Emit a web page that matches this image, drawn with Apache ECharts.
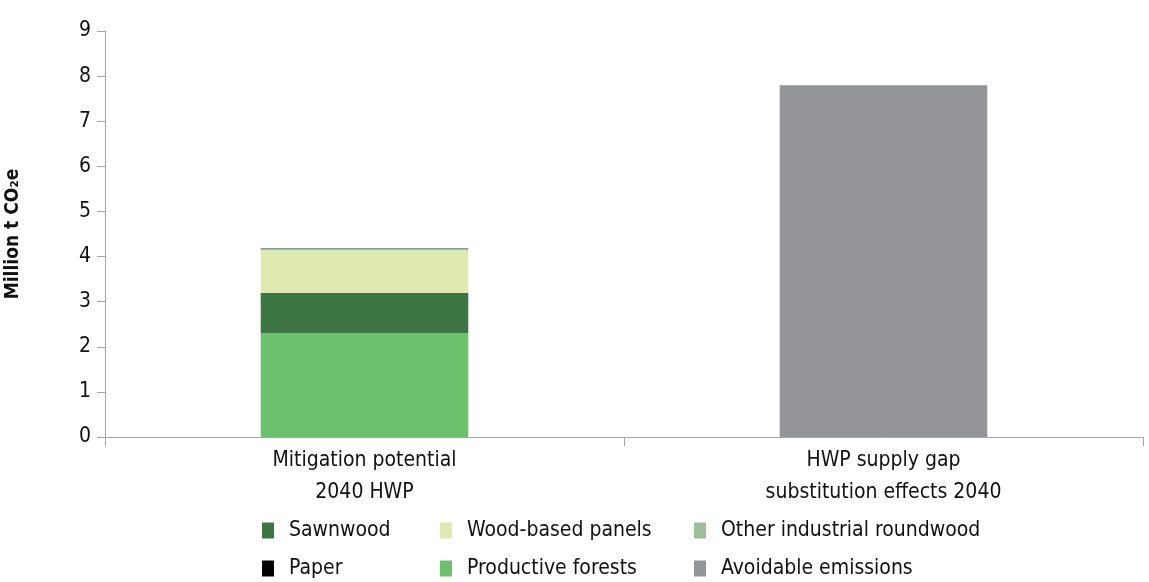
<!DOCTYPE html>
<html>
<head>
<meta charset="utf-8">
<script src="https://cdn.jsdelivr.net/npm/echarts@6/dist/echarts.min.js"></script>
<style>
  html, body { margin: 0; padding: 0; background: #fff; }
  #chart { width: 1149px; height: 582px; }
</style>
</head>
<body>
<div id="chart"></div>
<script>
var categories = ['Mitigation potential\n2040 HWP', 'HWP supply gap\nsubstitution effects 2040'];
var productiveForests = [2.3, 0];
var sawnwood = [0.89, 0];
var woodPanels = [0.95, 0];
var otherRoundwood = [0.045, 0];
var paper = [0.005, 0];
var avoidable = [0, 7.8];
var yTicks = [0, 1, 2, 3, 4, 5, 6, 7, 8, 9];

var font = "'Liberation Sans Narrow', 'DejaVu Sans Condensed', 'Roboto Condensed', sans-serif";

var chart = echarts.init(document.getElementById('chart'));

function bar(name, data, color) {
  return {
    name: name,
    type: 'bar',
    stack: 'total',
    barWidth: '40%',
    data: data,
    itemStyle: { color: color },
    emphasis: { disabled: true }
  };
}

function legendAt(name, left, top) {
  return {
    data: [name],
    left: left,
    top: top,
    icon: 'rect',
    itemWidth: 12,
    itemHeight: 16,
    selectedMode: false,
    textStyle: { fontFamily: font, fontSize: 21, color: '#111', padding: [0, 0, 0, 10] }
  };
}

var option = {
  animation: false,
  grid: { left: 105, right: 6, top: 31, bottom: 145, outerBoundsMode: 'none' },
  legend: [
    legendAt('Sawnwood', 257, 515),
    legendAt('Wood-based panels', 435, 515),
    legendAt('Other industrial roundwood', 689, 515),
    legendAt('Paper', 257, 553),
    legendAt('Productive forests', 435, 553),
    legendAt('Avoidable emissions', 689, 553)
  ],
  xAxis: {
    type: 'category',
    data: categories,
    axisLine: { lineStyle: { color: '#a6a6a6', width: 1 } },
    axisTick: { show: true, alignWithLabel: false, length: 9, lineStyle: { color: '#a6a6a6' } },
    axisLabel: { fontFamily: font, fontSize: 21, color: '#111', lineHeight: 32, margin: 8 }
  },
  yAxis: {
    type: 'value',
    min: 0,
    max: 9,
    interval: 1,
    name: 'Million t CO\u2082e',
    nameLocation: 'middle',
    nameRotate: 90,
    nameGap: 82,
    nameTextStyle: { fontFamily: font, fontSize: 19, fontWeight: 'bold', color: '#111' },
    axisLine: { show: true, lineStyle: { color: '#a6a6a6' } },
    axisTick: { show: true, length: 8, lineStyle: { color: '#a6a6a6' } },
    splitLine: { show: false },
    axisLabel: {
      fontFamily: font, fontSize: 21, color: '#111', margin: 14,
      formatter: function (v) { return yTicks.indexOf(v) >= 0 ? String(v) : ''; }
    }
  },
  series: [
    bar('Productive forests', productiveForests, '#6cc16c'),
    bar('Sawnwood', sawnwood, '#3e7545'),
    bar('Wood-based panels', woodPanels, '#e0eab0'),
    bar('Other industrial roundwood', otherRoundwood, '#9dbf9c'),
    bar('Paper', paper, '#000000'),
    bar('Avoidable emissions', avoidable, '#939598')
  ]
};

chart.setOption(option);
window.addEventListener('resize', function () { chart.resize(); });
</script>
</body>
</html>
